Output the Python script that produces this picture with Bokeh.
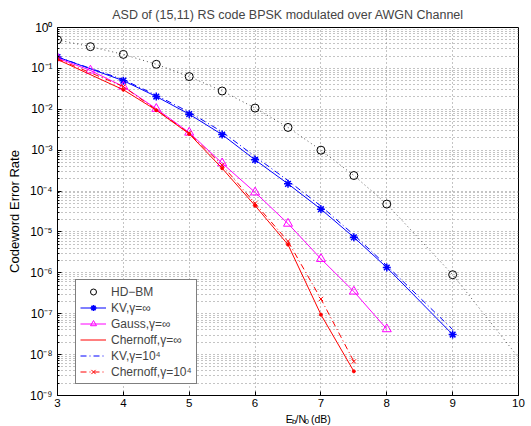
from bokeh.plotting import figure
from bokeh.models import FixedTicker, Legend, LegendItem
from bokeh.layouts import column
from bokeh.embed import file_html
from bokeh.resources import INLINE
from bokeh.core.properties import value

# ---- data ----
x_hd = [3, 3.5, 4, 4.5, 5, 5.5, 6, 6.5, 7, 7.5, 8, 9, 10]
y_hd = [0.5, 0.34, 0.22, 0.126, 0.063, 0.028, 0.0107, 0.0036, 1.0e-3, 2.4e-4, 4.8e-5, 9e-7, 8.5e-9]
hd_marker_n = 12  # last point only continues the dotted line

x_kv = [3, 4, 4.5, 5, 5.5, 6, 6.5, 7, 7.5, 8, 9]
y_kv = [0.19, 0.05, 0.0205, 0.0076, 0.0024, 5.8e-4, 1.5e-4, 3.6e-5, 7.4e-6, 1.35e-6, 3.1e-8]

x_gauss = [3, 3.5, 4, 4.5, 5, 5.5, 6, 6.5, 7, 7.5, 8]
y_gauss = [0.178, 0.089, 0.036, 0.0103, 0.0027, 4.8e-4, 9.3e-5, 1.6e-5, 2.2e-6, 3.5e-7, 4.2e-8]

x_ch = [3, 4, 4.5, 5, 5.5, 6, 6.5, 7, 7.5]
y_ch = [0.165, 0.030, 0.0095, 0.0025, 3.6e-4, 4.4e-5, 4.9e-6, 9.5e-8, 3.9e-9]

x_kv4 = [3, 4, 4.5, 5, 5.5, 6, 6.5, 7, 7.5, 8, 9]
y_kv4 = [0.19, 0.053, 0.022, 0.0085, 0.0028, 7e-4, 1.8e-4, 4.3e-5, 8.5e-6, 1.5e-6, 4.1e-8]

x_ch4 = [3, 4, 5, 5.5, 6, 6.5, 7, 7.5]
y_ch4 = [0.17, 0.036, 0.0026, 4.3e-4, 5.0e-5, 5.9e-6, 2.3e-7, 6.8e-9]

x_ticks = [3, 4, 5, 6, 7, 8, 9, 10]
y_exps = [0, -1, -2, -3, -4, -5, -6, -7, -8, -9]
sup = str.maketrans("-0123456789", "⁻⁰¹²³⁴⁵⁶⁷⁸⁹")
y_tick_labels = {10.0 ** e: "10" + str(e).translate(sup) for e in y_exps}

title_text = "ASD of (15,11) RS code BPSK modulated over AWGN Channel"
# x-axis label pieces: (text, is_subscript)
xlabel_parts = [("E", False), ("b", True), ("/N", False), ("0", True), ("(dB)", False)]
FONT = "Liberation Sans"

p = figure(frame_width=461, frame_height=368, x_range=(3, 10), y_range=(1e-9, 1),
           y_axis_type="log", output_backend="svg", toolbar_location=None,
           title=title_text, min_border_left=57, min_border_right=13,
           min_border_top=26, min_border_bottom=14)

p.title.align = "center"
p.title.text_font = FONT
p.title.text_font_size = "12.5px"
p.title.text_font_style = "normal"
p.title.offset = 0
p.title.standoff = 11

y_ticks = sorted(10.0 ** e for e in y_exps)
y_minor = [k * 10.0 ** e for e in range(-9, 0) for k in range(2, 10)]

p.xaxis.ticker = FixedTicker(ticks=x_ticks)
p.yaxis.ticker = FixedTicker(ticks=y_ticks, minor_ticks=y_minor)
p.yaxis.major_label_overrides = y_tick_labels

for ax in (p.xaxis, p.yaxis):
    ax.major_tick_in = 4
    ax.major_tick_out = 0
    ax.minor_tick_in = 2
    ax.minor_tick_out = 0
    ax.axis_line_color = "black"
    ax.major_tick_line_color = "black"
    ax.minor_tick_line_color = "black"
    ax.major_label_text_font = FONT
    ax.major_label_text_font_size = "11.5px"
    ax.major_label_text_color = "black"
    ax.axis_label_text_font = FONT
    ax.axis_label_text_font_style = "normal"
    ax.axis_label_text_color = "black"
p.xaxis.minor_tick_line_color = None
p.xaxis.major_label_standoff = 3
p.yaxis.major_label_text_font_size = "12px"
p.yaxis.major_label_standoff = 5
p.yaxis.axis_label = "Codeword Error Rate"
p.yaxis.axis_label_text_font_size = "13px"
p.yaxis.axis_label_standoff = 5

p.outline_line_color = "black"
p.xgrid.grid_line_color = "#888888"
p.xgrid.grid_line_dash = "1 3"
p.ygrid.grid_line_color = "#888888"
p.ygrid.grid_line_dash = "1 3"
p.ygrid.minor_grid_line_color = "#888888"
p.ygrid.minor_grid_line_dash = "1 3"
p.background_fill_color = "white"
p.border_fill_color = "white"

# ---- series ----
r_hd_l = p.line(x_hd, y_hd, color="#555555", line_dash="1 3", line_width=1)
r_hd_m = p.scatter(x_hd[:hd_marker_n], y_hd[:hd_marker_n], marker="circle", size=8,
                   line_color="black", fill_color=None, line_width=1)

r_kv_l = p.line(x_kv, y_kv, color="blue", line_width=1)
r_kv_m = p.scatter(x_kv, y_kv, marker="asterisk", size=8, line_color="blue", line_width=1.5)

r_g_l = p.line(x_gauss, y_gauss, color="magenta", line_width=1)
r_g_m = p.scatter(x_gauss, y_gauss, marker="triangle", size=9, line_color="magenta",
                  fill_color=None, line_width=1)

r_c_l = p.line(x_ch, y_ch, color="red", line_width=1)
r_c_m = p.scatter(x_ch, y_ch, marker="circle", size=3, line_color="red", fill_color="red")

r_kv4_l = p.line(x_kv4, y_kv4, color="blue", line_width=1, line_dash="6 3 1 3")

r_c4_l = p.line(x_ch4, y_ch4, color="red", line_width=1, line_dash="6 3 1 3")
r_c4_m = p.scatter(x_ch4, y_ch4, marker="x", size=6, line_color="red", line_width=1)

legend = Legend(items=[
    LegendItem(label="HD−BM", renderers=[r_hd_m]),
    LegendItem(label="KV,γ=∞", renderers=[r_kv_l, r_kv_m]),
    LegendItem(label="Gauss,γ=∞", renderers=[r_g_l, r_g_m]),
    LegendItem(label="Chernoff,γ=∞", renderers=[r_c_l]),
    LegendItem(label="KV,γ=10⁴", renderers=[r_kv4_l]),
    LegendItem(label="Chernoff,γ=10⁴", renderers=[r_c4_l, r_c4_m]),
], location=(18, 11))
legend.label_text_font = FONT
legend.label_text_font_size = "12px"
legend.label_height = 15
legend.glyph_height = 15
legend.glyph_width = 26
legend.label_standoff = 5
legend.spacing = 1
legend.padding = 4
legend.margin = 0
legend.border_line_color = "black"
legend.border_line_width = 1
legend.background_fill_alpha = 1
p.add_layout(legend)

# ---- x-axis label strip (to allow subscripts) ----
W = 531
H = 18
lab = figure(width=W, height=H, x_range=(0, W), y_range=(0, H), output_backend="svg",
             toolbar_location=None, min_border=0, x_axis_location=None, y_axis_location=None)
lab.outline_line_color = None
lab.grid.visible = False
lab.background_fill_color = "white"
lab.border_fill_color = "white"
cx = 57 + 461 / 2
widths = {"E": 7.0, "b": 4.2, "/N": 10.5, "0": 7.2, "(dB)": 20.0}
total = sum(widths[t] for t, _ in xlabel_parts)
xs, ys, txt, sizes = [], [], [], []
pos = cx - total / 2
for t, is_sub in xlabel_parts:
    xs.append(pos)
    ys.append(6 if is_sub else 9)
    txt.append(t)
    sizes.append("7.5px" if is_sub else "10.5px")
    pos += widths[t]
lab.text(x=xs, y=ys, text=txt, text_font=value(FONT), text_font_size=sizes,
         text_baseline="alphabetic", text_align="left", text_color="black")

layout = column(p, lab, spacing=0)
open("out.html", "w").write(file_html(layout, INLINE))
